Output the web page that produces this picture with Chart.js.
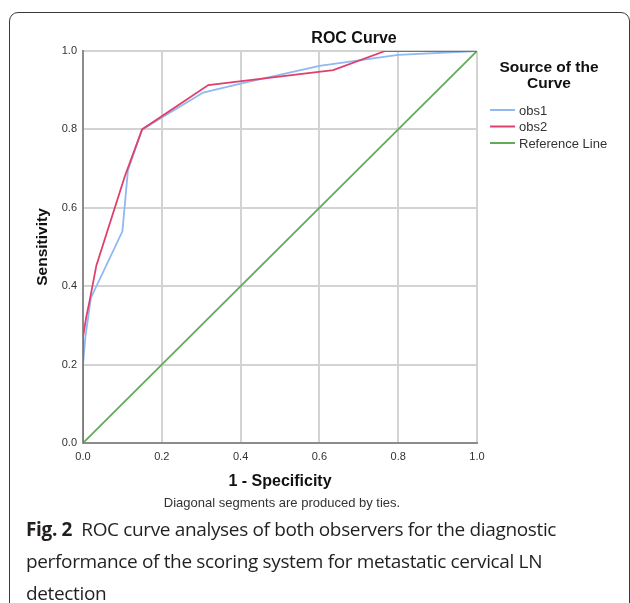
<!DOCTYPE html>
<html>
<head>
<meta charset="utf-8">
<script src="https://cdn.jsdelivr.net/npm/chart.js@4/dist/chart.umd.min.js"></script>
<style>
  body { margin: 0; background: #fff; width: 630px; height: 603px; overflow: hidden; position: relative; }
  #frame { position: absolute; left: 9px; top: 12px; width: 619px; height: 640px; border: 1.3px solid #3a3a3a; border-radius: 9px; }
  #wrap { position: absolute; left: 0; top: 0; width: 630px; height: 515px; }
  #caption { position: absolute; left: 26px; top: 513px; font-family: 'Open Sans', sans-serif; font-size: 19px; line-height: 32px; color: #231f20; white-space: nowrap; letter-spacing: -0.35px; }
  #caption b { font-weight: 700; }
</style>
</head>
<body>
<div id="frame"></div>
<div id="wrap"><canvas id="rocChart" width="630" height="515"></canvas></div>
<div id="caption"><b>Fig. 2</b>&nbsp; ROC curve analyses of both observers for the diagnostic<br>performance of the scoring system for metastatic cervical LN<br>detection</div>
<script>
// 1 - specificity / sensitivity
const obs1X = [0, 0, 0.006, 0.02, 0.10, 0.114, 0.15, 0.305, 0.40, 0.60, 0.80, 1.0];
const obs1Y = [0, 0.20, 0.27, 0.37, 0.54, 0.695, 0.80, 0.894, 0.917, 0.962, 0.99, 1.0];
const obs2X = [0, 0, 0.008, 0.017, 0.034, 0.106, 0.15, 0.318, 0.635, 0.767, 1.0];
const obs2Y = [0, 0.27, 0.32, 0.364, 0.453, 0.68, 0.80, 0.913, 0.951, 1.0, 1.0];
const refX = [0, 1];
const refY = [0, 1];
const seriesNames = ['obs1', 'obs2', 'Reference Line'];
const axisTicks = [0, 0.2, 0.4, 0.6, 0.8, 1.0];

const toPoints = (xs, ys) => xs.map((x, i) => ({ x: x, y: ys[i] }));

const FONT = "'Liberation Sans', Arial, sans-serif";

const textPlugin = {
  id: 'spssText',
  afterDraw(chart) {
    const c = chart.ctx;
    const area = chart.chartArea;
    const midX = (area.left + area.right) / 2;
    c.save();
    c.fillStyle = '#111';
    c.textAlign = 'center';
    c.textBaseline = 'alphabetic';

    c.font = 'bold 16px ' + FONT;
    c.fillText('ROC Curve', 354, 43);

    // axis titles
    c.fillText('1 - Specificity', midX, 486);
    c.font = 'bold 15.5px ' + FONT;
    c.save();
    c.translate(47, (area.top + area.bottom) / 2);
    c.rotate(-Math.PI / 2);
    c.fillText('Sensitivity', 0, 0);
    c.restore();

    c.font = '13px ' + FONT;
    c.fillStyle = '#333';
    c.fillText('Diagonal segments are produced by ties.', midX + 2, 507);

    // legend
    c.fillStyle = '#111';
    c.font = 'bold 15.5px ' + FONT;
    c.fillText('Source of the', 549, 72);
    c.fillText('Curve', 549, 88);
    c.textAlign = 'left';
    c.font = '13px ' + FONT;
    chart.data.datasets.forEach((ds, i) => {
      const y = 110 + i * 16.5;
      c.strokeStyle = ds.borderColor;
      c.lineWidth = 2;
      c.beginPath();
      c.moveTo(490, y);
      c.lineTo(515, y);
      c.stroke();
      c.fillStyle = '#333';
      c.fillText(ds.label, 519, y + 4.5);
    });
    c.restore();
  }
};

const ctx = document.getElementById('rocChart').getContext('2d');
const rocChart = new Chart(ctx, {
  type: 'scatter',
  data: {
    datasets: [{
      label: seriesNames[0],
      data: toPoints(obs1X, obs1Y),
      borderColor: '#8fb9f0',
      order: 1
    }, {
      label: seriesNames[1],
      data: toPoints(obs2X, obs2Y),
      borderColor: '#e0406c',
      order: 0
    }, {
      label: seriesNames[2],
      data: toPoints(refX, refY),
      borderColor: '#62ab5c',
      order: 2
    }]
  },
  options: {
    responsive: false,
    animation: false,
    showLine: true,
    elements: {
      point: { radius: 0, hoverRadius: 0 },
      line: { borderWidth: 1.8, tension: 0, fill: false }
    },
    layout: { padding: { left: 0, top: 51, right: 153, bottom: 0 } },
    scales: {
      x: {
        type: 'linear',
        min: 0,
        max: 1,
        afterFit: s => { s.height = 72; },
        afterBuildTicks: s => { s.ticks = axisTicks.map(v => ({ value: v })); },
        grid: { color: '#d3d3d3', lineWidth: 2, drawTicks: false },
        border: { color: '#8c8c8c', width: 2 },
        ticks: { padding: 7, color: '#333', font: { family: FONT, size: 11 }, callback: v => v.toFixed(1) }
      },
      y: {
        type: 'linear',
        min: 0,
        max: 1,
        afterFit: s => { s.width = 83; },
        afterBuildTicks: s => { s.ticks = axisTicks.map(v => ({ value: v })); },
        grid: { color: '#d3d3d3', lineWidth: 2, drawTicks: false },
        border: { color: '#8c8c8c', width: 2 },
        ticks: { padding: 6, color: '#333', font: { family: FONT, size: 11 }, callback: v => v.toFixed(1) }
      }
    },
    plugins: {
      legend: { display: false },
      tooltip: { enabled: false },
      title: { display: false }
    }
  },
  plugins: [textPlugin]
});
</script>
</body>
</html>
